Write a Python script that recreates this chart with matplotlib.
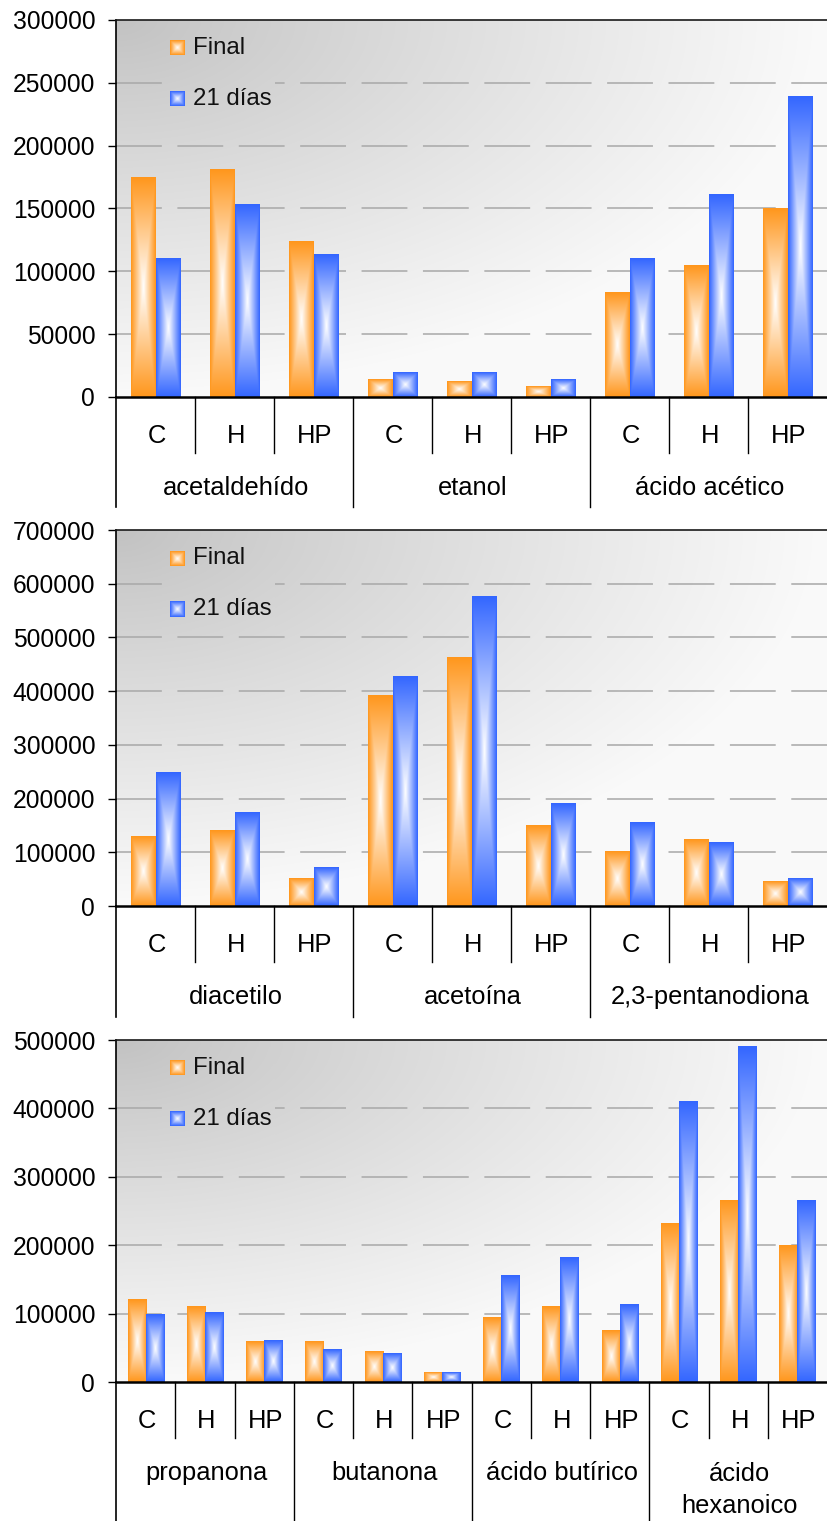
import numpy as np
import matplotlib
matplotlib.use("Agg")
import matplotlib.pyplot as plt
from matplotlib.lines import Line2D
from matplotlib.transforms import blended_transform_factory
from matplotlib.ticker import StrMethodFormatter

plt.rcParams['font.family'] = ['Liberation Sans', 'DejaVu Sans']
plt.rcParams['lines.scale_dashes'] = False

# ---------------- data ----------------
series_names = ["Final", "21 días"]
treatments = ["C", "H", "HP"]

groups_1 = ["acetaldehído", "etanol", "ácido acético"]
final_1 = [175000, 181000, 124000, 14300, 12700, 8000, 83000, 105000, 150000]
dias21_1 = [110000, 153000, 113000, 19100, 19100, 14300, 110000, 161000, 239000]

groups_2 = ["diacetilo", "acetoína", "2,3-pentanodiona"]
final_2 = [130000, 141000, 52000, 391000, 462000, 149000, 101000, 123000, 45000]
dias21_2 = [249000, 175000, 71000, 428000, 577000, 190000, 156000, 119000, 52000]

groups_3 = ["propanona", "butanona", "ácido butírico", "ácido\nhexanoico"]
final_3 = [120000, 111000, 58500, 58500, 44000, 14600, 93600, 111000, 76000, 231000, 266000, 199000]
dias21_3 = [99400, 102300, 61400, 46800, 41000, 14600, 155000, 181300, 114000, 409400, 491000, 266000]

ymax_1, ystep_1 = 300000, 50000
ymax_2, ystep_2 = 700000, 100000
ymax_3, ystep_3 = 500000, 100000

# ---------------- style ----------------
ORANGE = (1.0, 0.59, 0.11)
BLUE = (0.20, 0.40, 1.0)
W, H = 827, 1521
LEFT = 116
FS_TICK = 17.7
FS_LEG = 17.3
FS_CAT = 18.4
PT = 0.72  # points per pixel at 100 dpi

fig = plt.figure(figsize=(W / 100, H / 100), dpi=100)


def rect_gradient(color, ny, nx):
    v = np.abs(np.linspace(-1, 1, ny))[:, None]
    u = np.abs(np.linspace(-1, 1, nx))[None, :]
    d = np.maximum(u, v)[..., None]
    return np.array(color)[None, None, :] * d + (1 - d)


def bg_shade(fx0, fx1, fy0, fy1, n=200):
    # fy measured from the top of the plot area
    u = np.linspace(fx0, fx1, n)[None, :]
    v = np.linspace(fy0, fy1, n)[:, None]
    r = np.clip(np.sqrt(u ** 2 + v ** 2), 0, 1)
    g = 0.76 + 0.22 * r ** 0.9
    return np.dstack([g, g, g])


def panel(top, bottom, groups, final, dias, ymax, ystep, group_line_len):
    hpx = bottom - top
    wpx = W - LEFT
    ax = fig.add_axes([LEFT / W, 1 - bottom / H, wpx / W, hpx / H])
    n = len(final)
    x = np.arange(n)
    ax.set_xlim(-0.5, n - 0.5)
    ax.set_ylim(0, ymax)
    ax.set_autoscale_on(False)

    def to_data(fx, fy_top):
        return -0.5 + fx * n, ymax * (1 - fy_top)

    # background
    ax.imshow(bg_shade(0, 1, 0, 1), extent=[-0.5, n - 0.5, 0, ymax],
              aspect='auto', zorder=0, interpolation='bilinear')

    # dashed gridlines
    ticks = np.arange(0, ymax + 1, ystep)
    for t in ticks[1:-1]:
        ax.axhline(t, color='#a8a8a8', lw=1.1, linestyle=(0, (33.0, 11.2)), zorder=1)

    # legend area covers the grid
    lx0, lx1 = 46 / wpx, 159 / wpx
    ly0, ly1 = 8 / hpx, 100 / hpx
    x0, y1 = to_data(lx0, ly0)
    x1, y0 = to_data(lx1, ly1)
    ax.imshow(bg_shade(lx0, lx1, ly0, ly1, 60), extent=[x0, x1, y0, y1],
              aspect='auto', zorder=1.5, interpolation='bilinear')

    # bars
    w = 0.305
    cat_px = wpx / n
    for vals, col, off in ((final, ORANGE, -w / 2), (dias, BLUE, w / 2)):
        bars = ax.bar(x + off, vals, w, color=col, zorder=2)
        for p in bars:
            hb = p.get_height() / ymax * hpx
            img = rect_gradient(col, max(8, int(hb * 2)), max(8, int(w * cat_px * 2)))
            ax.imshow(img, extent=[p.get_x(), p.get_x() + p.get_width(), 0, p.get_height()],
                      aspect='auto', zorder=3, interpolation='bilinear')

    # legend
    for i, (name, col) in enumerate(zip(series_names, (ORANGE, BLUE))):
        cy = (28 + 51 * i) / hpx
        mx0, my1 = to_data((170 - LEFT) / wpx, cy - 7.5 / hpx)
        mx1, my0 = to_data((185 - LEFT) / wpx, cy + 7.5 / hpx)
        ax.imshow(rect_gradient(col, 32, 32), extent=[mx0, mx1, my0, my1],
                  aspect='auto', zorder=4, interpolation='bilinear')
        ax.text((193 - LEFT) / wpx, 1 - cy, name, transform=ax.transAxes,
                fontsize=FS_LEG, va='center', ha='left', zorder=5, color='#111111')

    # axes frame
    ax.spines['right'].set_visible(False)
    ax.spines['left'].set_linewidth(1.2)
    ax.spines['top'].set_linewidth(1.2)
    ax.spines['top'].set_color('#1a1a1a')
    ax.spines['bottom'].set_linewidth(1.8)
    for s in ax.spines.values():
        s.set_zorder(6)

    ax.set_yticks(ticks)
    ax.yaxis.set_major_formatter(StrMethodFormatter('{x:.0f}'))
    ax.tick_params(axis='y', direction='out', length=6, width=1.0, pad=9.0,
                   labelsize=FS_TICK, colors='black')
    ax.set_xticks([])

    # category axis: labels and separators
    tr = blended_transform_factory(ax.transData, ax.transAxes)
    for i in range(n):
        ax.annotate(treatments[i % 3], xy=(i, 0), xycoords=tr,
                    xytext=(1.5 * PT, -39 * PT), textcoords='offset points',
                    ha='center', va='center', fontsize=FS_CAT)
    for i in range(n - 1):
        boundary = (i + 1) % 3 == 0
        L = group_line_len if boundary else 56
        ax.add_line(Line2D([i + 0.5, i + 0.5], [0, -L / hpx], transform=tr,
                           color='black', lw=1.0, clip_on=False))
    ax.add_line(Line2D([-0.5, -0.5], [0, -group_line_len / hpx], transform=tr,
                       color='black', lw=1.2, clip_on=False))
    for g, name in enumerate(groups):
        dy = 108 if '\n' in name else 91
        ax.annotate(name, xy=(3 * g + 1, 0), xycoords=tr,
                    xytext=(1.5 * PT, -dy * PT), textcoords='offset points',
                    ha='center', va='center', fontsize=FS_CAT, linespacing=1.45)
    return ax


panel(20, 397, groups_1, final_1, dias21_1, ymax_1, ystep_1, 110)
panel(530, 906, groups_2, final_2, dias21_2, ymax_2, ystep_2, 111)
panel(1040, 1382, groups_3, final_3, dias21_3, ymax_3, ystep_3, 140)

fig.savefig("out.png", dpi=100)
